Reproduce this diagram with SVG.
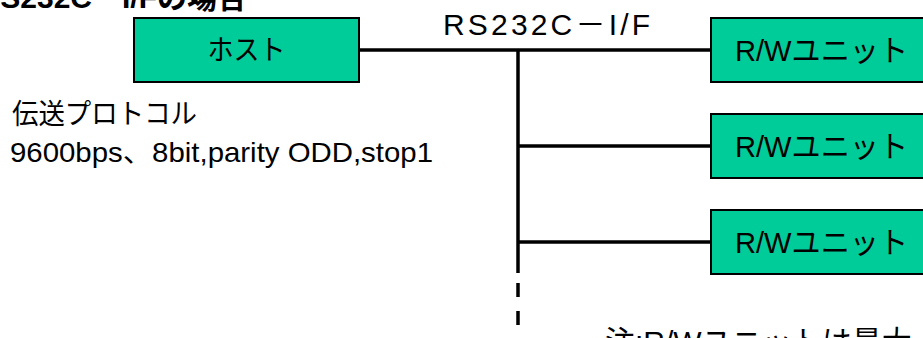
<svg xmlns="http://www.w3.org/2000/svg" width="923" height="338" viewBox="0 0 923 338">
<style>
.box{fill:#00CC99;stroke:#000;stroke-width:2}
.t{font-family:"Liberation Sans","Noto Sans CJK JP",sans-serif;fill:#000}
.lbl{font-size:30px;text-anchor:middle}
.ln{stroke:#000;stroke-width:3.5;fill:none}
</style>
<rect width="923" height="338" fill="#fff"/>
<text class="t" x="247" y="8" font-size="30" font-weight="bold" text-anchor="end">RS232C－I/Fの場合</text>
<g id="connectors">
<line class="ln" x1="359" y1="50" x2="711" y2="50"/>
<line class="ln" x1="518" y1="50" x2="518" y2="273"/>
<line class="ln" x1="518" y1="283" x2="518" y2="340" stroke-dasharray="14 14"/>
<line class="ln" x1="518" y1="146" x2="711" y2="146" stroke-width="3"/>
<line class="ln" x1="518" y1="242" x2="711" y2="242" stroke-width="3"/>
</g>
<g id="host">
<rect class="box" x="134" y="18" width="225" height="64"/>
<text class="t" x="246.5" y="60" font-size="28" text-anchor="middle" textLength="78" lengthAdjust="spacingAndGlyphs">ホスト</text>
</g>
<g id="rw1">
<rect class="box" x="711" y="18" width="225" height="64"/>
<text class="t lbl" x="821.5" y="61" textLength="173" lengthAdjust="spacingAndGlyphs">R/Wユニット</text>
</g>
<g id="rw2">
<rect class="box" x="711" y="114" width="225" height="64"/>
<text class="t lbl" x="821.5" y="157" textLength="173" lengthAdjust="spacingAndGlyphs">R/Wユニット</text>
</g>
<g id="rw3">
<rect class="box" x="711" y="210" width="225" height="64"/>
<text class="t lbl" x="821.5" y="253" textLength="173" lengthAdjust="spacingAndGlyphs">R/Wユニット</text>
</g>
<text class="t" x="443" y="35" font-size="30" textLength="207">RS232C－I/F</text>
<text class="t" x="12" y="124" font-size="28" textLength="185" lengthAdjust="spacingAndGlyphs">伝送プロトコル</text>
<text class="t" x="10" y="162" font-size="28" textLength="423" lengthAdjust="spacingAndGlyphs">9600bps、8bit,parity ODD,stop1</text>
<text class="t" x="605" y="352" font-size="30">注:R/Wユニットは最大</text>
</svg>
